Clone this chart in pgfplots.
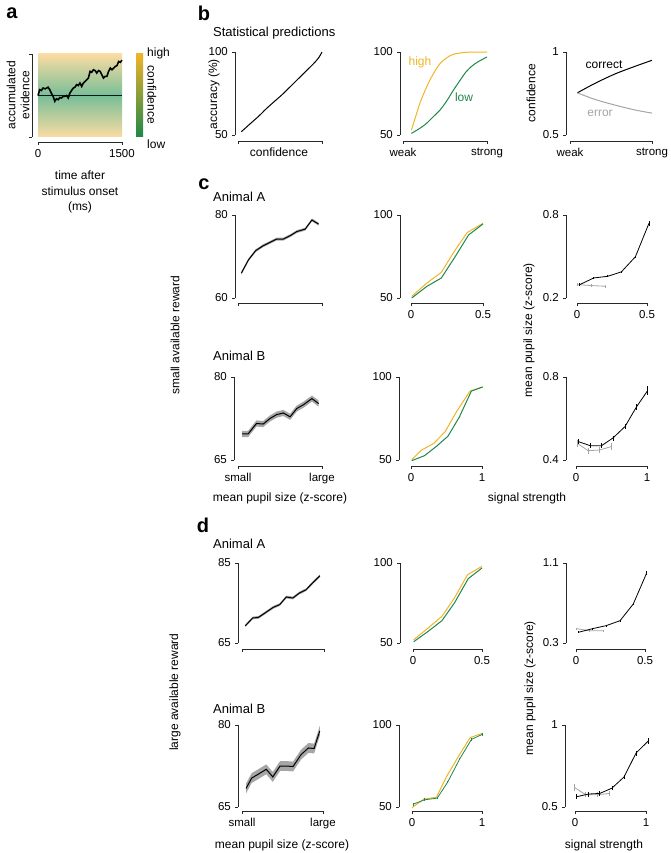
\documentclass[border=0pt]{standalone}
\usepackage{pgfplots}
\pgfplotsset{compat=1.18}
\usepackage{fontspec}
\setmainfont{Liberation Sans}
\definecolor{hi}{RGB}{240,180,40}
\definecolor{lo}{RGB}{30,135,75}
\definecolor{er}{RGB}{165,165,165}
\definecolor{ax}{RGB}{40,40,40}
\definecolor{bgo}{RGB}{250,220,162}
\definecolor{bgg}{RGB}{120,190,152}
\newcommand{\fs}{\fontsize{12}{14}\selectfont}
\newcommand{\ft}{\fontsize{11.5}{13}\selectfont}
\newcommand{\fh}{\fontsize{13}{15}\selectfont}
\newcommand{\pl}{\fontsize{20}{20}\selectfont\bfseries}
\pgfplotsset{
 panel/.style={scale only axis, anchor=north west, axis lines*=left,
   axis line style={line width=0.9pt, ax},
   tick style={line width=0.8pt, ax},
   tick align=outside, major tick length=3pt,
   clip=false, ticklabel style={font=\ft},
   /pgf/number format/assume math mode=true,
 },
 eb/.style={line width=0.8pt, error bars/.cd, y dir=both, y explicit, error mark=none, error bar style={line width=0.8pt}},
 band/.style={draw=none, fill=gray!70},
}
\begin{document}
\fs
\begin{tikzpicture}[font=\fs]
\path[use as bounding box] (0,0) rectangle (670pt,-853pt);
% ---------------- panel a
\begin{axis}[panel, at={(38pt,-54pt)}, width=84pt, height=83pt,
  xmin=0, xmax=1500, ymin=-1, ymax=1, xtick={0,1500}, xticklabels={0,1500},
  ytick={-1,1}, yticklabels={,}, axis x line shift=5pt, axis y line shift=6pt]
\addplot[draw=none, top color=bgo, bottom color=bgo, middle color=bgg] coordinates {(0,-1)(1500,-1)(1500,1)(0,1)} -- cycle;
\addplot[black!80!teal, line width=0.8pt] coordinates {(0,0)(1500,0)};
\addplot[black, line width=1.6pt] coordinates {(0,0)(30,0.14)(60,0.12)(90,0.18)(130,0.16)(180,0.2)(210,0.14)(240,0.05)(270,-0.02)(300,-0.14)(330,-0.08)(360,-0.1)(390,-0.05)(420,-0.06)(450,-0.02)(480,-0.02)(510,0.0)(540,-0.06)(570,0.06)(600,0.12)(630,0.18)(660,0.2)(690,0.26)(720,0.24)(750,0.3)(780,0.22)(810,0.3)(840,0.34)(870,0.38)(900,0.42)(930,0.58)(960,0.56)(990,0.62)(1020,0.6)(1050,0.54)(1080,0.6)(1110,0.58)(1140,0.5)(1170,0.42)(1200,0.46)(1230,0.46)(1260,0.58)(1290,0.66)(1320,0.62)(1350,0.66)(1380,0.7)(1410,0.72)(1440,0.82)(1470,0.8)(1500,0.85)};
\end{axis}
\begin{axis}[scale only axis, anchor=north west, at={(136pt,-54pt)}, width=7pt, height=83pt,
  xmin=0, xmax=1, ymin=0, ymax=1, axis lines=none, clip=false]
\addplot[draw=none, top color=hi, bottom color=lo] coordinates {(0,0)(1,0)(1,1)(0,1)} -- cycle;
\end{axis}
\node[anchor=west] at (143pt,-53pt) {high};
\node[anchor=west] at (143pt,-144pt) {low};
\node[rotate=-90] at (152pt,-95pt) {confidence};
\node[rotate=90, align=center] at (18pt,-95pt) {accumulated\\evidence};
\node at (80pt,-175pt) {time after};
\node at (80pt,-191pt) {stimulus onset};
\node at (80pt,-207pt) {(ms)};
% ---------------- panel b
\begin{axis}[panel, at={(238pt,-52pt)}, width=84pt, height=83pt,
  xmin=0, xmax=1, ymin=50, ymax=100, xtick={0,1}, xticklabels={,},
  ytick={50,100}, yticklabels={50,100}, axis x line shift=6pt, axis y line shift=3pt]
\addplot[black, line width=1pt, smooth] coordinates {(0.04,52)(0.15,57)(0.25,61.5)(0.34,66)(0.44,70.5)(0.54,75)(0.64,80)(0.74,85)(0.82,89)(0.9,93)(0.96,96.5)(1,100)};
\end{axis}
\begin{axis}[panel, at={(403pt,-52pt)}, width=84pt, height=83pt,
  xmin=0, xmax=1, ymin=50, ymax=100, xtick={0,1}, xticklabels={weak,strong},
  ytick={50,100}, yticklabels={50,100}, axis x line shift=6pt, axis y line shift=3pt]
\addplot[hi, line width=1pt, smooth] coordinates {(0.1,53)(0.15,61)(0.2,69)(0.26,76.5)(0.32,83)(0.38,88.5)(0.44,93)(0.52,96.5)(0.6,98.6)(0.75,99.8)(1,100)};
\addplot[lo, line width=1pt, smooth] coordinates {(0.1,51)(0.2,54)(0.28,57)(0.36,61)(0.44,65)(0.52,70.5)(0.6,77)(0.68,83)(0.75,88)(0.82,91.5)(0.89,94)(1,97)};
\end{axis}
\begin{axis}[panel, at={(570pt,-52pt)}, width=82pt, height=83pt,
  xmin=0, xmax=1, ymin=0.5, ymax=1, xtick={0,1}, xticklabels={weak,strong},
  ytick={0.5,1}, yticklabels={0.5,1}, axis x line shift=6pt, axis y line shift=4pt]
\addplot[black, line width=1pt, smooth] coordinates {(0.09,0.754)(0.3,0.81)(0.55,0.868)(0.8,0.915)(1,0.95)};
\addplot[er, line width=1pt, smooth] coordinates {(0.09,0.754)(0.3,0.715)(0.55,0.68)(0.8,0.65)(1,0.632)};
\end{axis}
\node[rotate=90] at (214pt,-94pt) {accuracy (\%)};
\node at (279pt,-152pt) {confidence};
\node[text=hi] at (420pt,-62pt) {high};
\node[text=lo] at (464pt,-97pt) {low};
\node[rotate=90] at (531pt,-93pt) {confidence};
\node at (604pt,-65pt) {correct};
\node[text=er] at (600pt,-113pt) {error};
% ---------------- panel c, animal A
\begin{axis}[panel, at={(238pt,-215pt)}, width=84pt, height=83pt,
  xmin=0, xmax=1, ymin=60, ymax=80, xtick={0,1}, xticklabels={,},
  ytick={60,80}, yticklabels={60,80}, axis x line shift=5pt, axis y line shift=3pt]
\addplot[band] coordinates {(0.04,66.35)(0.125,69.55)(0.21,71.75)(0.3,72.95)(0.38,73.75)(0.46,74.55)(0.54,74.55)(0.62,75.35)(0.7,76.35)(0.8,76.95)(0.88,79.15)(0.96,78.15)
 (0.96,77.45)(0.88,78.45)(0.8,76.25)(0.7,75.65)(0.62,74.65)(0.54,73.85)(0.46,73.85)(0.38,73.05)(0.3,72.25)(0.21,71.05)(0.125,68.85)(0.04,65.65)} -- cycle;
\addplot[black, line width=1pt] coordinates {(0.04,66)(0.125,69.2)(0.21,71.4)(0.3,72.6)(0.38,73.4)(0.46,74.2)(0.54,74.2)(0.62,75)(0.7,76)(0.8,76.6)(0.88,78.8)(0.96,77.8)};
\end{axis}
\begin{axis}[panel, at={(411pt,-215pt)}, width=72pt, height=83pt,
  xmin=0, xmax=0.5, ymin=50, ymax=100, xtick={0,0.5}, xticklabels={0,0.5},
  ytick={50,100}, yticklabels={50,100}, axis x line shift=5pt, axis y line shift=11pt]
\addplot[hi, line width=1pt] coordinates {(0.005,51)(0.11,59)(0.21,65.4)(0.3,78)(0.39,89.4)(0.5,95)};
\addplot[lo, line width=1pt] coordinates {(0.005,50)(0.11,57)(0.21,62)(0.3,74)(0.4,88)(0.5,94.6)};
\end{axis}
\begin{axis}[panel, at={(577pt,-215pt)}, width=70pt, height=83pt,
  xmin=0, xmax=0.5, ymin=0.2, ymax=0.8, xtick={0,0.5}, xticklabels={0,0.5},
  ytick={0.2,0.8}, yticklabels={0.2,0.8}, axis x line shift=5pt, axis y line shift=11pt]
\addplot[er, eb] coordinates {(0.0,0.297) +- (0,0.01) (0.1,0.29) +- (0,0.01) (0.2,0.285) +- (0,0.012)};
\addplot[black, eb] coordinates {(0.02,0.297) +- (0,0.008) (0.12,0.345) +- (0,0.008) (0.22,0.357) +- (0,0.008) (0.317,0.389) +- (0,0.008) (0.417,0.498) +- (0,0.008) (0.514,0.74) +- (0,0.02)};
\end{axis}
% ---------------- panel c, animal B
\begin{axis}[panel, at={(238pt,-377pt)}, width=84pt, height=83pt,
  xmin=0, xmax=1, ymin=65, ymax=80, xtick={0,1}, xticklabels={small,large},
  ytick={65,80}, yticklabels={65,80}, axis x line shift=6pt, axis y line shift=4pt]
\addplot[band] coordinates {(0.05,70.25)(0.12,70.25)(0.22,72.15)(0.3,72.05)(0.38,73.05)(0.46,73.75)(0.54,74.05)(0.62,73.35)(0.7,74.85)(0.78,75.55)(0.88,76.65)(0.96,75.75)
 (0.96,74.65)(0.88,75.55)(0.78,74.45)(0.7,73.75)(0.62,72.25)(0.54,72.95)(0.46,72.65)(0.38,71.95)(0.3,70.95)(0.22,71.05)(0.12,69.15)(0.05,69.15)} -- cycle;
\addplot[black, line width=1pt] coordinates {(0.05,69.7)(0.12,69.7)(0.22,71.6)(0.3,71.5)(0.38,72.5)(0.46,73.2)(0.54,73.5)(0.62,72.8)(0.7,74.3)(0.78,75)(0.88,76.1)(0.96,75.2)};
\end{axis}
\begin{axis}[panel, at={(411pt,-377pt)}, width=71pt, height=83pt,
  xmin=0, xmax=1, ymin=50, ymax=100, xtick={0,1}, xticklabels={0,1},
  ytick={50,100}, yticklabels={50,100}, axis x line shift=6pt, axis y line shift=12pt]
\addplot[hi, line width=1pt] coordinates {(0.01,50.2)(0.15,56)(0.32,60)(0.48,67)(0.64,79)(0.83,91.5)(1.01,94)};
\addplot[lo, line width=1pt] coordinates {(0.01,49.6)(0.19,52.6)(0.36,58.3)(0.52,64.3)(0.68,75.8)(0.85,91.5)(1.01,94)};
\end{axis}
\begin{axis}[panel, at={(576pt,-377pt)}, width=71pt, height=83pt,
  xmin=0, xmax=1, ymin=0.4, ymax=0.8, xtick={0,1}, xticklabels={0,1},
  ytick={0.4,0.8}, yticklabels={0.4,0.8}, axis x line shift=6pt, axis y line shift=10pt]
\addplot[er, eb] coordinates {(0.02,0.48) +- (0,0.015) (0.17,0.445) +- (0,0.015) (0.33,0.448) +- (0,0.015) (0.5,0.465) +- (0,0.015)};
\addplot[black, eb] coordinates {(0.03,0.489) +- (0,0.012) (0.2,0.469) +- (0,0.012) (0.36,0.469) +- (0,0.012) (0.52,0.506) +- (0,0.012) (0.69,0.561) +- (0,0.012) (0.85,0.655) +- (0,0.015) (1.01,0.735) +- (0,0.022)};
\end{axis}
\node[rotate=90] at (175pt,-335pt) {small available reward};
\node[rotate=90] at (529pt,-330pt) {mean pupil size (z-score)};
\node at (280pt,-498pt) {mean pupil size (z-score)};
\node at (527pt,-498pt) {signal strength};
% ---------------- panel d, animal A
\begin{axis}[panel, at={(242pt,-563pt)}, width=82pt, height=80pt,
  xmin=0, xmax=1, ymin=65, ymax=85, xtick={0,1}, xticklabels={,},
  ytick={65,85}, yticklabels={65,85}, axis x line shift=6pt, axis y line shift=4pt]
\addplot[band] coordinates {(0.04,69.65)(0.13,71.6)(0.2,71.75)(0.28,72.85)(0.38,74.25)(0.46,74.95)(0.54,76.85)(0.62,76.6)(0.7,77.85)(0.78,78.65)(0.86,80.35)(0.95,82.15)
 (0.95,81.45)(0.86,79.65)(0.78,77.95)(0.7,77.15)(0.62,75.9)(0.54,76.15)(0.46,74.25)(0.38,73.55)(0.28,72.15)(0.2,71.05)(0.13,70.9)(0.04,68.95)} -- cycle;
\addplot[black, line width=1pt] coordinates {(0.04,69.3)(0.13,71.25)(0.2,71.4)(0.28,72.5)(0.38,73.9)(0.46,74.6)(0.54,76.5)(0.62,76.25)(0.7,77.5)(0.78,78.3)(0.86,80)(0.95,81.8)};
\end{axis}
\begin{axis}[panel, at={(413pt,-563pt)}, width=69pt, height=80pt,
  xmin=0, xmax=0.5, ymin=50, ymax=100, xtick={0,0.5}, xticklabels={0,0.5},
  ytick={50,100}, yticklabels={50,100}, axis x line shift=6pt, axis y line shift=13pt]
\addplot[hi, line width=1pt] coordinates {(0.005,52)(0.11,59.4)(0.21,66.7)(0.3,78.1)(0.395,92.7)(0.5,97.9)};
\addplot[lo, line width=1pt] coordinates {(0.005,50.8)(0.11,57.3)(0.21,64)(0.3,75)(0.4,90.2)(0.5,96.9)};
\end{axis}
\begin{axis}[panel, at={(576pt,-563pt)}, width=69pt, height=80pt,
  xmin=0, xmax=0.5, ymin=0.3, ymax=1.1, xtick={0,0.5}, xticklabels={0,0.5},
  ytick={0.3,1.1}, yticklabels={0.3,1.1}, axis x line shift=6pt, axis y line shift=10pt]
\addplot[er, eb] coordinates {(0.005,0.443) +- (0,0.012) (0.1,0.423) +- (0,0.012) (0.2,0.423) +- (0,0.012)};
\addplot[black, eb] coordinates {(0.017,0.407) +- (0,0.01) (0.118,0.443) +- (0,0.01) (0.217,0.473) +- (0,0.01) (0.319,0.523) +- (0,0.01) (0.415,0.69) +- (0,0.01) (0.512,1.0) +- (0,0.02)};
\end{axis}
% ---------------- panel d, animal B
\begin{axis}[panel, at={(242pt,-725pt)}, width=81pt, height=82pt,
  xmin=0, xmax=1, ymin=65, ymax=80, xtick={0,1}, xticklabels={small,large},
  ytick={65,80}, yticklabels={65,80}, axis x line shift=4pt, axis y line shift=4pt]
\addplot[band] coordinates {(0.05,69.3)(0.12,71.2)(0.2,71.9)(0.3,72.8)(0.38,71.4)(0.47,73.4)(0.55,73.4)(0.63,73.3)(0.73,75.5)(0.82,76.7)(0.89,76.6)(0.96,79.8)
 (0.96,78)(0.89,74.8)(0.82,74.9)(0.73,73.7)(0.63,71.5)(0.55,71.6)(0.47,71.6)(0.38,69.6)(0.3,71)(0.2,70.1)(0.12,69.4)(0.05,67.5)} -- cycle;
\addplot[black, line width=1pt] coordinates {(0.05,68.4)(0.12,70.3)(0.2,71)(0.3,71.9)(0.38,70.5)(0.47,72.5)(0.55,72.5)(0.63,72.4)(0.73,74.6)(0.82,75.8)(0.89,75.7)(0.96,78.9)};
\end{axis}
\begin{axis}[panel, at={(412pt,-725pt)}, width=70pt, height=82pt,
  xmin=0, xmax=1, ymin=50, ymax=100, xtick={0,1}, xticklabels={0,1},
  ytick={50,100}, yticklabels={50,100}, axis x line shift=4pt, axis y line shift=13pt]
\addplot[hi, line width=1pt] coordinates {(0.0,49.6)(0.17,54.8)(0.35,56)(0.49,68.3)(0.67,81.3)(0.83,92.3)(1.01,95)};
\addplot[lo, eb] coordinates {(0.014,51.7) +- (0,0.8) (0.18,54.4) +- (0,0.8) (0.36,55.4) +- (0,0.8) (0.51,65.2) +- (0,0.8) (0.68,79.2) +- (0,0.8) (0.85,91.25) +- (0,0.8) (1.01,94.4) +- (0,0.8)};
\end{axis}
\begin{axis}[panel, at={(575pt,-725pt)}, width=71pt, height=82pt,
  xmin=0, xmax=1, ymin=0.5, ymax=1, xtick={0,1}, xticklabels={0,1},
  ytick={0.5,1}, yticklabels={0.5,1}, axis x line shift=4pt, axis y line shift=10pt]
\addplot[er, eb] coordinates {(-0.01,0.62) +- (0,0.02) (0.15,0.575) +- (0,0.015) (0.32,0.575) +- (0,0.015) (0.49,0.583) +- (0,0.015)};
\addplot[black, eb] coordinates {(0.02,0.5625) +- (0,0.015) (0.19,0.579) +- (0,0.015) (0.35,0.583) +- (0,0.015) (0.52,0.615) +- (0,0.012) (0.69,0.683) +- (0,0.012) (0.86,0.829) +- (0,0.015) (1.03,0.902) +- (0,0.02)};
\end{axis}
\node[rotate=90] at (175pt,-692pt) {large available reward};
\node[rotate=90] at (530pt,-688pt) {mean pupil size (z-score)};
\node at (282pt,-845pt) {mean pupil size (z-score)};
\node at (604pt,-845pt) {signal strength};
% ---------------- titles and panel letters
\node[anchor=west, font=\fh] at (209pt,-33pt) {Statistical predictions};
\node[anchor=west, font=\fh] at (209pt,-197pt) {Animal A};
\node[anchor=west, font=\fh] at (209pt,-356pt) {Animal B};
\node[anchor=west, font=\fh] at (209pt,-544pt) {Animal A};
\node[anchor=west, font=\fh] at (209pt,-709pt) {Animal B};
\node[font=\pl] at (12pt,-13pt) {a};
\node[font=\pl] at (204pt,-13pt) {b};
\node[font=\pl] at (204pt,-184pt) {c};
\node[font=\pl] at (203pt,-525pt) {d};
\end{tikzpicture}
\end{document}
